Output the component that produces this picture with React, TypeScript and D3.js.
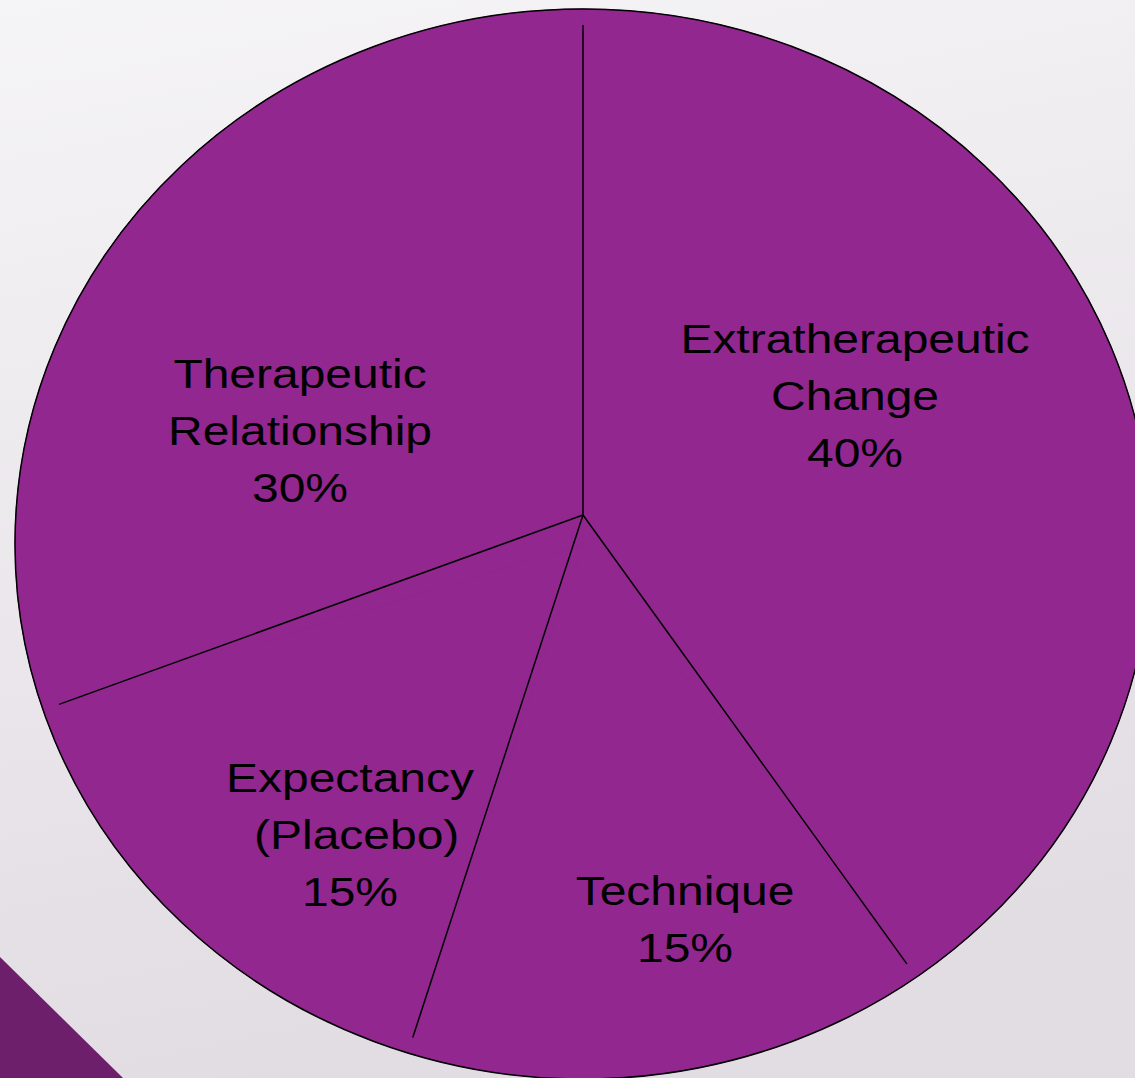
import React from "react";
import * as d3 from "d3";

// slice data, clockwise from 12 o'clock
const categories = [
  "Extratherapeutic Change",
  "Technique",
  "Expectancy (Placebo)",
  "Therapeutic Relationship",
];
const shares = [40, 15, 15, 30];
const labelLines = [
  ["Extratherapeutic", "Change"],
  ["Technique"],
  ["Expectancy", " (Placebo)"],
  ["Therapeutic", "Relationship"],
];

const width = 1135;
const height = 1078;

// ellipse geometry of the (slightly squashed) pie
const cx = 583;
const cy = 544;
const rx = 568;
const ry = 535;
const hubY = 515; // divider lines meet a bit above the centre

// text anchors (first baseline) for each slice label
const labelPos = [
  { x: 855, y: 353 },
  { x: 685, y: 905 },
  { x: 350, y: 792 },
  { x: 300, y: 388 },
];

const App = () => {
  const pie = d3
    .pie<number>()
    .sort(null)
    .value((d) => d);
  const slices = pie(shares);

  // circle arc, stretched into the ellipse below
  const arc = d3.arc<any>().innerRadius(0).outerRadius(ry);

  const outline = arc({ startAngle: 0, endAngle: Math.PI * 2 } as any) || "";

  const dividerEnd = (a: number) => ({
    x: cx + rx * 0.97 * Math.sin(a),
    y: cy - ry * 0.97 * Math.cos(a),
  });

  return (
    <div style={{ position: "fixed", left: 0, top: 0 }}>
      <svg width={width} height={height} style={{ display: "block" }}>
        <defs>
          <linearGradient id="bg" x1="0" y1="0" x2="0.2" y2="1">
            <stop offset="0%" stopColor="#f5f4f6" />
            <stop offset="100%" stopColor="#e2dce3" />
          </linearGradient>
        </defs>
        <rect width={width} height={height} fill="url(#bg)" />

        {/* corner decoration */}
        <path d={`M0,957 L123,${height} L0,${height} Z`} fill="#6d1f6b" />

        <g transform={`translate(${cx},${cy}) scale(${rx / ry},1)`}>
          <path d={outline} fill="#92278f" />
          {slices.map((s, i) => (
            <path
              key={categories[i]}
              d={arc(s) || ""}
              fill="#92278f"
              stroke="#92278f"
              strokeWidth={1}
              vectorEffect="non-scaling-stroke"
            />
          ))}
          <path
            d={outline}
            fill="none"
            stroke="#000"
            strokeWidth={1.5}
            vectorEffect="non-scaling-stroke"
          />
        </g>

        {slices.map((s, i) => {
          const e = dividerEnd(s.startAngle);
          return (
            <line
              key={"div" + i}
              x1={cx}
              y1={hubY}
              x2={e.x}
              y2={e.y}
              stroke="#000"
              strokeWidth={1.5}
            />
          );
        })}

        {slices.map((s, i) => {
          const lines = [...labelLines[i], `${shares[i]}%`];
          return (
            <text
              key={"lbl" + i}
              transform={`translate(${labelPos[i].x},${labelPos[i].y}) scale(1.17,1)`}
              textAnchor="middle"
              fontFamily="'Liberation Sans', Arial, sans-serif"
              fontSize={41}
              fill="#000"
              style={{ whiteSpace: "pre" }}
            >
              {lines.map((t, j) => (
                <tspan key={j} x={0} y={j * 57}>
                  {t}
                </tspan>
              ))}
            </text>
          );
        })}
      </svg>
    </div>
  );
};

export default App;
